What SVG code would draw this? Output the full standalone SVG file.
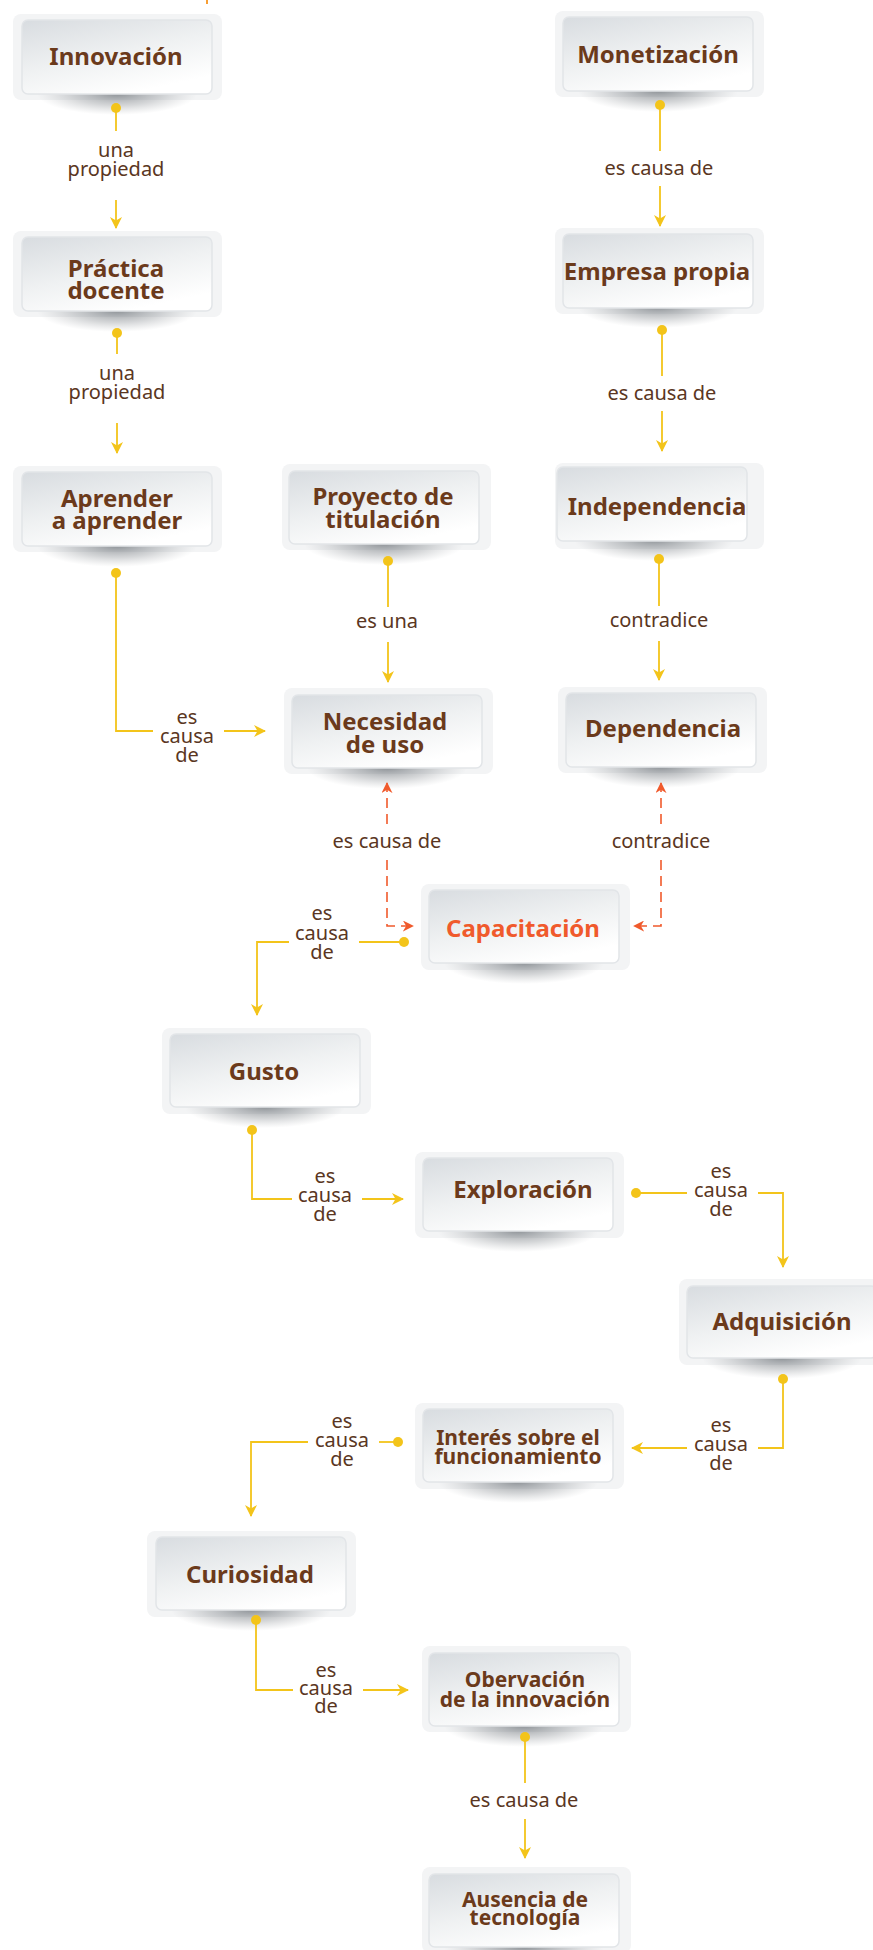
<svg xmlns="http://www.w3.org/2000/svg" width="873" height="1950" viewBox="0 0 873 1950">
<style>
.outer{fill:#f3f4f5}
.inner{fill:url(#ig);stroke:#e2e5e8;stroke-width:1.5}
.sh{fill:url(#sg)}
.nt{font-family:"Noto Sans","Open Sans",sans-serif;font-weight:bold;font-size:24px;fill:#6b3a1b;text-anchor:middle}
.sm{font-size:21px}
.hl{fill:#f05a2c}
.lb{font-family:"Noto Sans","Open Sans",sans-serif;font-size:20px;fill:#5a3622;text-anchor:middle}
.c{fill:none;stroke:#f3c41a;stroke-width:1.8}
.ca{fill:none;stroke:#f3c41a;stroke-width:1.8;marker-end:url(#ay)}
.d{fill:none;stroke:#f05a2c;stroke-width:1.6;stroke-dasharray:10 6}
.dot{fill:#f3c41a}
</style>
<defs>
<linearGradient id="ig" x1="0" y1="0" x2="0.55" y2="1">
<stop offset="0" stop-color="#d8dce0"/>
<stop offset="0.55" stop-color="#eff1f2"/>
<stop offset="1" stop-color="#ffffff"/>
</linearGradient>
<radialGradient id="sg" cx="0.5" cy="0.5" r="0.5">
<stop offset="0" stop-color="#666c72" stop-opacity="0.7"/>
<stop offset="0.55" stop-color="#858a8f" stop-opacity="0.35"/>
<stop offset="1" stop-color="#a0a4a8" stop-opacity="0"/>
</radialGradient>
<marker id="ay" viewBox="0 0 12 12" refX="11" refY="6" markerWidth="12" markerHeight="12" markerUnits="userSpaceOnUse" orient="auto">
<path d="M0,0 L12,6 L0,12 L3.5,6 Z" fill="#f3c41a"/>
</marker>
<marker id="ao" viewBox="0 0 12 12" refX="11" refY="6" markerWidth="11" markerHeight="11" markerUnits="userSpaceOnUse" orient="auto">
<path d="M0,0 L12,6 L0,12 L3.5,6 Z" fill="#f05a2c"/>
</marker>
</defs>
<rect width="873" height="1950" fill="#ffffff"/>
<line x1="207" y1="0" x2="207" y2="4" stroke="#f7941d" stroke-width="1.8"/>

<g id="n-innovacion"><rect class="outer" x="13" y="14" width="209" height="86" rx="8"/><ellipse class="sh" cx="117" cy="94" rx="80" ry="21"/><rect class="inner" x="22" y="20" width="190" height="74" rx="6"/><text class="nt" x="116" y="65">Innovación</text></g>
<g id="n-practica"><rect class="outer" x="13" y="231" width="209" height="86" rx="8"/><ellipse class="sh" cx="117" cy="311" rx="80" ry="21"/><rect class="inner" x="22" y="237" width="190" height="74" rx="6"/><text class="nt" x="116" y="277">Práctica</text><text class="nt" x="116" y="299">docente</text></g>
<g id="n-aprender"><rect class="outer" x="13" y="466" width="209" height="86" rx="8"/><ellipse class="sh" cx="117" cy="546" rx="80" ry="21"/><rect class="inner" x="22" y="472" width="190" height="74" rx="6"/><text class="nt" x="117" y="507">Aprender</text><text class="nt" x="117" y="529">a aprender</text></g>
<g id="n-monetizacion"><rect class="outer" x="555" y="11" width="209" height="86" rx="8"/><ellipse class="sh" cx="658" cy="91" rx="80" ry="21"/><rect class="inner" x="563" y="17" width="190" height="74" rx="6"/><text class="nt" x="658" y="63">Monetización</text></g>
<g id="n-empresa"><rect class="outer" x="555" y="228" width="209" height="86" rx="8"/><ellipse class="sh" cx="658" cy="307" rx="80" ry="21"/><rect class="inner" x="563" y="234" width="190" height="74" rx="6"/><text class="nt" x="657" y="280">Empresa propia</text></g>
<g id="n-independencia"><rect class="outer" x="555" y="463" width="209" height="86" rx="8"/><ellipse class="sh" cx="654" cy="540" rx="80" ry="21"/><rect class="inner" x="557" y="467" width="190" height="74" rx="6"/><text class="nt" x="657" y="515">Independencia</text></g>
<g id="n-dependencia"><rect class="outer" x="558" y="687" width="209" height="86" rx="8"/><ellipse class="sh" cx="661" cy="767" rx="80" ry="21"/><rect class="inner" x="566" y="693" width="190" height="74" rx="6"/><text class="nt" x="663" y="737">Dependencia</text></g>
<g id="n-proyecto"><rect class="outer" x="282" y="464" width="209" height="86" rx="8"/><ellipse class="sh" cx="384" cy="544" rx="80" ry="21"/><rect class="inner" x="289" y="471" width="190" height="73" rx="6"/><text class="nt" x="383" y="505">Proyecto de</text><text class="nt" x="383" y="528">titulación</text></g>
<g id="n-necesidad"><rect class="outer" x="284" y="688" width="209" height="86" rx="8"/><ellipse class="sh" cx="387" cy="768" rx="80" ry="21"/><rect class="inner" x="292" y="695" width="190" height="73" rx="6"/><text class="nt" x="385" y="730">Necesidad</text><text class="nt" x="385" y="753">de uso</text></g>
<g id="n-capacitacion"><rect class="outer" x="421" y="884" width="209" height="86" rx="8"/><ellipse class="sh" cx="524" cy="963" rx="80" ry="21"/><rect class="inner" x="429" y="890" width="190" height="73" rx="6"/><text class="nt hl" x="523" y="937">Capacitación</text></g>
<g id="n-gusto"><rect class="outer" x="162" y="1028" width="209" height="86" rx="8"/><ellipse class="sh" cx="265" cy="1107" rx="80" ry="21"/><rect class="inner" x="170" y="1034" width="190" height="73" rx="6"/><text class="nt" x="264" y="1080">Gusto</text></g>
<g id="n-exploracion"><rect class="outer" x="415" y="1152" width="209" height="86" rx="8"/><ellipse class="sh" cx="518" cy="1231" rx="80" ry="21"/><rect class="inner" x="423" y="1158" width="190" height="73" rx="6"/><text class="nt" x="523" y="1198">Exploración</text></g>
<g id="n-adquisicion"><rect class="outer" x="679" y="1279" width="209" height="86" rx="8"/><ellipse class="sh" cx="782" cy="1358" rx="80" ry="21"/><rect class="inner" x="687" y="1286" width="190" height="72" rx="6"/><text class="nt" x="782" y="1330">Adquisición</text></g>
<g id="n-interes"><rect class="outer" x="415" y="1403" width="209" height="86" rx="8"/><ellipse class="sh" cx="518" cy="1482" rx="80" ry="21"/><rect class="inner" x="423" y="1409" width="190" height="73" rx="6"/><text class="nt sm" x="518" y="1445">Interés sobre el</text><text class="nt sm" x="518" y="1464">funcionamiento</text></g>
<g id="n-curiosidad"><rect class="outer" x="147" y="1531" width="209" height="86" rx="8"/><ellipse class="sh" cx="251" cy="1610" rx="80" ry="21"/><rect class="inner" x="156" y="1537" width="190" height="73" rx="6"/><text class="nt" x="250" y="1583">Curiosidad</text></g>
<g id="n-observacion"><rect class="outer" x="422" y="1646" width="209" height="86" rx="8"/><ellipse class="sh" cx="524" cy="1726" rx="80" ry="21"/><rect class="inner" x="429" y="1653" width="190" height="73" rx="6"/><text class="nt sm" x="525" y="1687">Obervación</text><text class="nt sm" x="525" y="1707">de la innovación</text></g>
<g id="n-ausencia"><rect class="outer" x="422" y="1867" width="209" height="86" rx="8"/><ellipse class="sh" cx="524" cy="1947" rx="80" ry="21"/><rect class="inner" x="429" y="1874" width="190" height="73" rx="6"/><text class="nt sm" x="525" y="1907">Ausencia de</text><text class="nt sm" x="525" y="1925">tecnología</text></g>

<g id="connectors">
<circle class="dot" cx="116" cy="108" r="5"/><path class="c" d="M116,108 V131"/><path class="ca" d="M116,200 V228"/>
<text class="lb" x="116" y="157">una</text><text class="lb" x="116" y="176">propiedad</text>
<circle class="dot" cx="117" cy="333" r="5"/><path class="c" d="M117,333 V354"/><path class="ca" d="M117,423 V453"/>
<text class="lb" x="117" y="380">una</text><text class="lb" x="117" y="399">propiedad</text>
<circle class="dot" cx="660" cy="105" r="5"/><path class="c" d="M660,105 V151"/><path class="ca" d="M660,186 V226"/>
<text class="lb" x="659" y="175">es causa de</text>
<circle class="dot" cx="662" cy="330" r="5"/><path class="c" d="M662,330 V376"/><path class="ca" d="M662,411 V451"/>
<text class="lb" x="662" y="400">es causa de</text>
<circle class="dot" cx="659" cy="559" r="5"/><path class="c" d="M659,559 V606"/><path class="ca" d="M659,641 V680"/>
<text class="lb" x="659" y="627">contradice</text>
<circle class="dot" cx="116" cy="573" r="5"/><path class="c" d="M116,573 V731 H153"/><path class="ca" d="M224,731 H265"/>
<text class="lb" x="187" y="724">es</text><text class="lb" x="187" y="743">causa</text><text class="lb" x="187" y="762">de</text>
<circle class="dot" cx="388" cy="561" r="5"/><path class="c" d="M388,561 V607"/><path class="ca" d="M388,642 V682"/>
<text class="lb" x="387" y="628">es una</text>
<path class="d" d="M387,824 V783" marker-end="url(#ao)"/><path class="d" d="M387,860 V926 H413" marker-end="url(#ao)"/>
<text class="lb" x="387" y="848">es causa de</text>
<path class="d" d="M661,824 V783" marker-end="url(#ao)"/><path class="d" d="M661,860 V926 H634" marker-end="url(#ao)"/>
<text class="lb" x="661" y="848">contradice</text>
<circle class="dot" cx="404" cy="942" r="5"/><path class="c" d="M404,942 H359"/><path class="ca" d="M289,942 H257 V1015"/>
<text class="lb" x="322" y="920">es</text><text class="lb" x="322" y="940">causa</text><text class="lb" x="322" y="959">de</text>
<circle class="dot" cx="252" cy="1130" r="5"/><path class="c" d="M252,1130 V1199 H292"/><path class="ca" d="M362,1199 H403"/>
<text class="lb" x="325" y="1183">es</text><text class="lb" x="325" y="1202">causa</text><text class="lb" x="325" y="1221">de</text>
<circle class="dot" cx="636" cy="1193" r="5"/><path class="c" d="M636,1193 H687"/><path class="ca" d="M758,1193 H783 V1267"/>
<text class="lb" x="721" y="1178">es</text><text class="lb" x="721" y="1197">causa</text><text class="lb" x="721" y="1216">de</text>
<circle class="dot" cx="783" cy="1379" r="5"/><path class="c" d="M783,1379 V1448 H758"/><path class="ca" d="M687,1448 H632"/>
<text class="lb" x="721" y="1432">es</text><text class="lb" x="721" y="1451">causa</text><text class="lb" x="721" y="1470">de</text>
<circle class="dot" cx="398" cy="1442" r="5"/><path class="c" d="M398,1442 H379"/><path class="ca" d="M308,1442 H251 V1516"/>
<text class="lb" x="342" y="1428">es</text><text class="lb" x="342" y="1447">causa</text><text class="lb" x="342" y="1466">de</text>
<circle class="dot" cx="256" cy="1620" r="5"/><path class="c" d="M256,1620 V1690 H293"/><path class="ca" d="M363,1690 H408"/>
<text class="lb" x="326" y="1677">es</text><text class="lb" x="326" y="1695">causa</text><text class="lb" x="326" y="1713">de</text>
<circle class="dot" cx="525" cy="1737" r="5"/><path class="c" d="M525,1737 V1783"/><path class="ca" d="M525,1819 V1858"/>
<text class="lb" x="524" y="1807">es causa de</text>
</g>
</svg>
